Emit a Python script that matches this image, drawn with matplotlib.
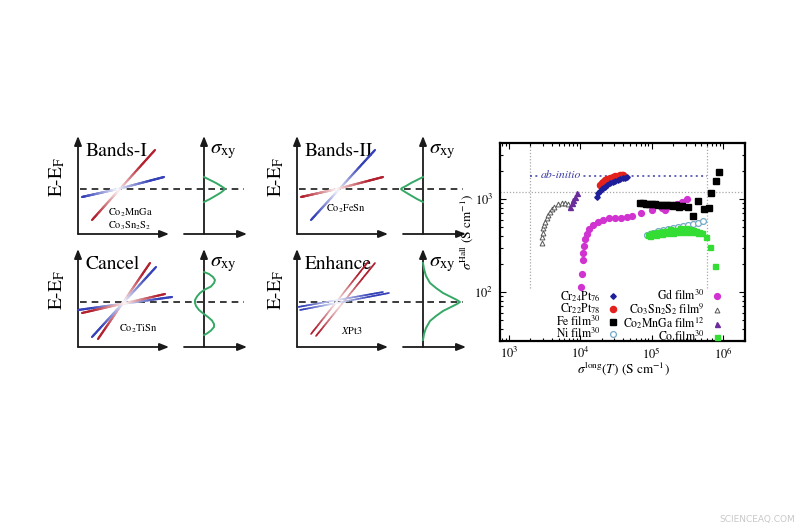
import numpy as np
import matplotlib
matplotlib.use('Agg')
import matplotlib.pyplot as plt
from matplotlib.collections import LineCollection
from matplotlib.colors import to_rgb

plt.rcParams['font.family'] = ['STIXGeneral', 'DejaVu Serif']
plt.rcParams['mathtext.fontset'] = 'stix'

# ---------------- data: right-hand scatter chart ----------------
cr24_x = [17000, 17900, 18900, 19900, 21000, 22200, 24000, 26100, 28300, 30700, 33300, 36100, 39300, 42000, 44800]
cr24_y = [1050, 1150, 1210, 1270, 1310, 1355, 1420, 1475, 1520, 1560, 1600, 1640, 1680, 1700, 1715]

cr22_x = [18900, 19900, 21000, 22200, 24000, 26100, 28300, 30700, 33300, 36100, 38500, 40100]
cr22_y = [1415, 1475, 1540, 1600, 1650, 1694, 1730, 1766, 1785, 1798, 1800, 1800]

fe_x = [68700, 75700, 83400, 92000, 101000, 112000, 123000, 136000, 149000, 165000, 181000, 200000,
        220000, 242000, 267000, 327000, 377000, 452000, 538000, 628000, 688000, 795000, 891000]
fe_y = [899, 899, 890, 883, 883, 875, 868, 868, 861, 855, 855, 841,
        861, 827, 841, 827, 661, 960, 780, 806, 1169, 1573, 1936]

ni_x = [85300, 95000, 106000, 124000, 146000, 171000, 201000, 237000, 278000, 327000, 385000, 452000, 521000]
ni_y = [410, 421, 434, 453, 465, 476, 491, 503, 516, 525, 538, 556, 585]

co_x = [89100, 98200, 108000, 119000, 131000, 145000, 159000, 175000, 193000, 213000, 234000, 258000,
        284000, 313000, 345000, 381000, 420000, 462000, 509000, 579000, 659000, 774000,
        95000, 115000, 140000, 170000, 200000, 240000, 280000, 330000, 390000, 440000,
        180000, 250000, 300000, 350000]
co_y = [410, 426, 431, 441, 441, 448, 453, 453, 459, 465, 465, 470,
        470, 465, 465, 459, 453, 441, 426, 390, 308, 188,
        400, 410, 420, 428, 432, 440, 445, 445, 440, 430,
        478, 482, 485, 480]

gd_x = [10100, 10600, 10800, 11000, 11300, 11800, 12300, 13400, 15200, 17700, 20800, 25300, 30700,
        37200, 45200, 53100, 71000, 101000, 140000, 154000, 165000, 200000, 227000, 267000, 313000]
gd_y = [114, 158, 221, 263, 313, 372, 421, 476, 525, 566, 595, 617, 625,
        632, 640, 656, 706, 763, 800, 762, 820, 862, 884, 929, 1010]

cst_x = [2880, 2930, 2980, 3030, 3130, 3230, 3380, 3560, 3760, 4010, 4280, 4910, 5480, 6100, 6790]
cst_y = [334, 387, 434, 484, 525, 570, 620, 673, 730, 774, 815, 884, 899, 899, 877]

cmg_x = [7160, 7570, 7980, 8430, 8910]
cmg_y = [826, 899, 976, 1059, 1152]

ref_x = [2000, 6.0e5]        # dotted vertical guides
ref_y = 1200                 # dotted horizontal guide
ref_ymin = 110
abinitio_y = 1750            # ab-initio value

# ---------------- data: schematic panels (k offset, E offset) ----------------
P1_lines = [('red', [(14, -31), (77, 39)]), ('blue', [(4, -8), (40, 0), (86, 12)])]
P1_green = [(0, 12), (6, 9), (12, 6), (17, 3), (20, 1), (21, 0), (20, -1), (17, -3.5), (12, -6.5), (6, -10), (0, -13)]
P2_lines = [('blue', [(14, -31), (78, 39)]), ('red', [(4, -8), (40, 0), (86, 12)])]
P2_green = [(0, 12), (-6, 9), (-12, 6), (-17, 3), (-21, 1), (-22, 0), (-21, -1), (-17, -3.5), (-12, -6.5), (-6, -10), (0, -13)]
P3_lines = [('red', [(20, -37), (72, 39)]), ('blue', [(14, -35), (78, 35)]),
            ('blue', [(0, -8), (94, 5)]), ('red', [(4, -11), (87, 8)])]
P3_green = [(0, 30), (5, 28), (9, 25), (11, 22), (10, 19), (7, 15.5), (3, 13.5), (0, 12), (-4, 9), (-7, 5.5),
            (-9, 2), (-9, -1), (-8, -4), (-5, -8), (-2, -10.5), (0, -12), (4, -15), (8, -18.5), (10, -22),
            (10, -25), (7, -28.5), (3, -31.5), (0, -33)]
P4_lines = [('red', [(14, -32), (71, 40)]), ('red', [(19, -34), (78, 39)]),
            ('blue', [(1, -5), (86, 10)]), ('blue', [(3, -8), (92, 9)])]
P4_green = [(0, 39), (1, 33), (3, 26), (7, 19), (13, 14), (20, 9), (28, 5), (34, 2), (37, 0),
            (34, -2), (28, -5), (20, -9), (13, -14), (7, -19), (3, -26), (1, -32), (0, -38)]

RED = '#b3202e'
BLUE = '#3441b8'
GREEN = '#35a865'

W, H = 800, 530
fig = plt.figure(figsize=(8, 5.3), dpi=100)
fig.patch.set_facecolor('white')


def rect(x0, y0, x1, y1):
    return [x0 / W, 1 - y1 / H, (x1 - x0) / W, (y1 - y0) / H]


def grad_line(ax, pts, color, center, D=34.0, lw=1.6, n=50):
    pts = np.asarray(pts, float)
    c = np.array(to_rgb(color))
    w = np.ones(3)
    segs, cols = [], []
    for p, q in zip(pts[:-1], pts[1:]):
        t = np.linspace(0, 1, n + 1)[:, None]
        xy = p + (q - p) * t
        for a, b in zip(xy[:-1], xy[1:]):
            m = (a + b) / 2
            d = np.hypot(m[0] - center[0], m[1] - center[1])
            f = min(d / D, 1.0) ** 0.85
            segs.append([a, b])
            cols.append(w * (1 - f) + c * f)
    lc = LineCollection(segs, colors=cols, linewidths=lw, capstyle='round', zorder=3)
    lc.set_clip_on(False)
    ax.add_collection(lc)


def arrow(ax, p0, p1):
    ax.annotate('', xy=p1, xytext=p0,
                arrowprops=dict(arrowstyle='-|>,head_length=0.55,head_width=0.22',
                                lw=1.3, color='#1a1a1a', shrinkA=0, shrinkB=0))


def panel(x0, ytop, ybot, lines, green, center, title, compounds, lw=1.6, D=34.0):
    ax = fig.add_axes(rect(x0, ytop, x0 + 172, ybot))
    ax.set_xlim(0, 172)
    ax.set_ylim(-45, 53)
    ax.axis('off')
    arrow(ax, (0, -45), (0, 53))
    arrow(ax, (0, -45), (91, -45))
    arrow(ax, (126, -45), (126, 53))
    arrow(ax, (106, -45), (169, -45))
    ax.plot([2, 166], [0, 0], color='#1a1a1a', lw=1.2, ls=(0, (4, 3)), clip_on=False, zorder=2)
    for col, pts in lines:
        grad_line(ax, pts, RED if col == 'red' else BLUE, center, D=D, lw=lw)
    g = np.asarray(green, float)
    ax.plot(126 + g[:, 0], g[:, 1], color=GREEN, lw=1.4, clip_on=False, zorder=3)
    ax.text(8, 38, title, fontsize=14, ha='left', va='center', zorder=1)
    ax.text(132, 38, r'$\sigma_{\rm xy}$', fontsize=15, ha='left', va='center')
    ax.text(-21, 12, r'E-E$_{\rm F}$', fontsize=14, ha='center', va='center', rotation=90)
    for txt, kx, ey in compounds:
        ax.text(kx, ey, txt, fontsize=7.5, ha='center', va='center')
    return ax


panel(78, 136, 234, P1_lines, P1_green, (40, 0), 'Bands-I',
      [('Co$_2$MnGa', 52, -24), ('Co$_3$Sn$_2$S$_2$', 52, -37)])
panel(297, 136, 234, P2_lines, P2_green, (40, 0), 'Bands-II',
      [('Co$_2$FeSn', 49, -20)])
panel(78, 249, 347, P3_lines, P3_green, (47, 0), 'Cancel',
      [('Co$_2$TiSn', 60, -27)])
panel(297, 249, 347, P4_lines, P4_green, (40, 0), 'Enhance',
      [('$X$Pt3', 55, -29)], lw=1.2)

# ---------------- scatter chart ----------------
ax = fig.add_axes(rect(500, 143, 745, 341))
ax.set_xscale('log')
ax.set_yscale('log')
ax.set_xlim(10 ** 2.874, 10 ** 6.309)
ax.set_ylim(10 ** 1.473, 10 ** 3.602)

ax.vlines(ref_x, ref_ymin, 10 ** 3.602, colors='#a8a8a8', lw=0.9, linestyles=(0, (1, 1.5)), zorder=1)
ax.axhline(ref_y, color='#a8a8a8', lw=0.9, ls=(0, (1, 1.5)), zorder=1)
ax.hlines(abinitio_y, ref_x[0], ref_x[1], colors='#3c3ca8', lw=1.1, linestyles=(0, (1.3, 2.2)), zorder=1)
ax.text(5300, 1830, 'ab-initio', color='#3c3ca8', fontsize=8.5, style='italic', ha='center', va='center',
        bbox=dict(facecolor='white', edgecolor='none', pad=0.3), zorder=2)

h_ni, = ax.plot(ni_x, ni_y, ls='none', marker='o', ms=4.2, mfc='white', mec='#74a9c6', mew=0.9,
                label=r'Ni film$^{30}$', zorder=3)
h_co, = ax.plot(co_x, co_y, ls='none', marker='s', ms=3.6, mfc='#33dd33', mec='#33dd33',
                label=r'Co film$^{30}$', zorder=4)
h_gd, = ax.plot(gd_x, gd_y, ls='none', marker='o', ms=4.2, mfc='#d133d1', mec='#d133d1',
                label=r'Gd film$^{30}$', zorder=4)
h_fe, = ax.plot(fe_x, fe_y, ls='none', marker='s', ms=4.0, mfc='black', mec='black',
                label=r'Fe film$^{30}$', zorder=5)
h_cst, = ax.plot(cst_x, cst_y, ls='none', marker='^', ms=3.5, mfc='white', mec='#555555', mew=0.7,
                 label=r'Co$_3$Sn$_2$S$_2$ film$^{9}$', zorder=4)
h_cmg, = ax.plot(cmg_x, cmg_y, ls='none', marker='^', ms=3.6, mfc='#6b2c9c', mec='#6b2c9c',
                 label=r'Co$_2$MnGa film$^{12}$', zorder=5)
h_cr22, = ax.plot(cr22_x, cr22_y, ls='none', marker='o', ms=4.4, mfc='#e3221e', mec='#e3221e',
                  label=r'Cr$_{22}$Pt$_{78}$', zorder=5)
h_cr24, = ax.plot(cr24_x, cr24_y, ls='none', marker='D', ms=2.8, mfc='#1e1e9a', mec='#1e1e9a',
                  label=r'Cr$_{24}$Pt$_{76}$', zorder=6)

leg_kw = dict(loc='upper right', frameon=False, markerfirst=False, fontsize=8.5, handlelength=0.8,
              handletextpad=0.7, labelspacing=-0.15, borderpad=0, borderaxespad=0)
leg1 = ax.legend(handles=[h_cr24, h_cr22, h_fe, h_ni], bbox_to_anchor=(0.482, 0.262), **leg_kw)
ax.add_artist(leg1)
ax.legend(handles=[h_gd, h_cst, h_cmg, h_co], bbox_to_anchor=(0.906, 0.262), **leg_kw)

ax.tick_params(which='both', direction='in', top=True, right=True, labelsize=9, width=0.8)
ax.tick_params(which='major', length=4.5)
ax.tick_params(which='minor', length=2.3)
ax.tick_params(axis='y', pad=5)
for s in ax.spines.values():
    s.set_linewidth(1.6)

ax.set_xlabel(r'$\sigma^{\rm long}(T)$ (S cm$^{-1}$)', fontsize=9.5)
ax.set_ylabel(r'$\sigma^{\rm Hall}$ (S cm$^{-1}$)', fontsize=9.5)
ax.xaxis.set_label_coords((623 - 500) / 245, -(360 - 341) / 198)
ax.yaxis.set_label_coords((475 - 500) / 245, (341 - 232) / 198)

fig.text(0.994, 0.012, 'SCIENCEAQ.COM', ha='right', va='bottom', fontsize=6.5, color='#c8c8c8',
         family='DejaVu Sans')

fig.savefig('out.png', dpi=100, facecolor='white')
